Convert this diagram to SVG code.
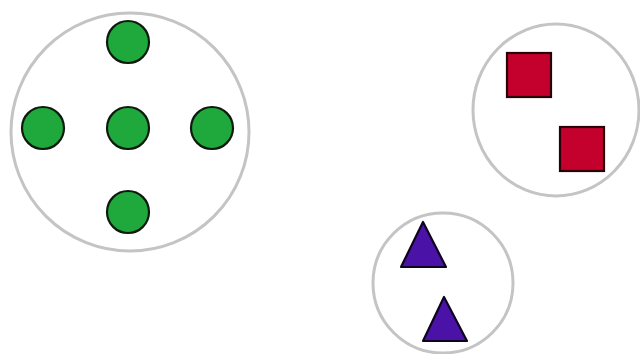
<svg xmlns="http://www.w3.org/2000/svg" width="640" height="354" viewBox="0 0 640 354">
<style>
.cluster{fill:#fff;stroke:#c4c4c4;stroke-width:3}
.dot{fill:#1fa83c;stroke:#0d1a0d;stroke-width:2.2}
.sq{fill:#c4002c;stroke:#2a0008;stroke-width:2.2}
.tri{fill:#4a12a6;stroke:#0e0420;stroke-width:2.2;stroke-linejoin:round}
</style>
<rect width="640" height="354" fill="#fff"/>
<g id="cluster-green">
<circle class="cluster" cx="130" cy="132" r="119"/>
<circle class="dot" cx="128" cy="42" r="21"/>
<circle class="dot" cx="43" cy="128" r="21"/>
<circle class="dot" cx="128" cy="128" r="21"/>
<circle class="dot" cx="212" cy="128" r="21"/>
<circle class="dot" cx="128" cy="212" r="21"/>
</g>
<g id="cluster-red">
<ellipse class="cluster" cx="556" cy="110" rx="83" ry="86"/>
<rect class="sq" x="507" y="53" width="44" height="44"/>
<rect class="sq" x="560" y="127" width="44" height="44"/>
</g>
<g id="cluster-purple">
<circle class="cluster" cx="443" cy="283" r="70"/>
<polygon class="tri" points="423,222 446,267 401,267"/>
<polygon class="tri" points="444,297 467,341 423,341"/>
</g>
<g id="connectors"/>
</svg>
